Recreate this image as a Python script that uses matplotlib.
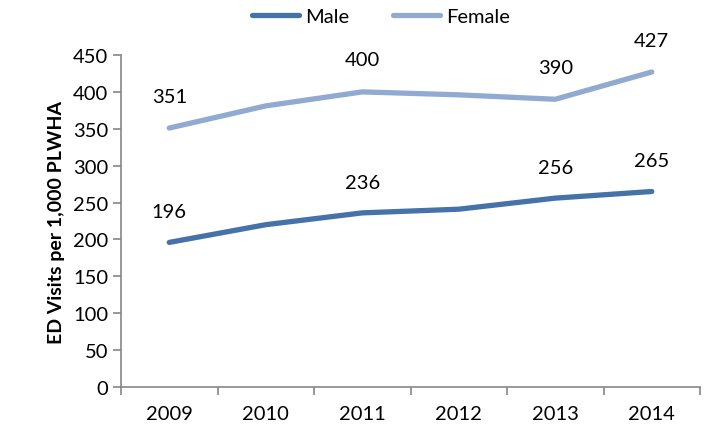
import matplotlib.pyplot as plt
import numpy as np

plt.rcParams['font.family'] = ['Lato', 'DejaVu Sans']

years = ["2009", "2010", "2011", "2012", "2013", "2014"]
male = [196, 220, 236, 241, 256, 265]
female = [351, 381, 400, 396, 390, 427]
# which points carry a value label
labelled = [0, 2, 4, 5]

fig = plt.figure(figsize=(7.05, 4.31), dpi=100)
ax = fig.add_axes([121 / 705, 1 - 388 / 431, 579 / 705, 332 / 431])

x = np.arange(len(years))
ax.plot(x, male, color="#4672AA", lw=3.8, label="Male", solid_capstyle="round")
ax.plot(x, female, color="#91AAD2", lw=3.8, label="Female", solid_capstyle="round")

for i in labelled:
    ax.annotate(str(male[i]), (x[i], male[i]), xytext=(0, 22), textcoords="offset points",
                ha="center", va="center", fontsize=14.5)
    ax.annotate(str(female[i]), (x[i], female[i]), xytext=(0, 23), textcoords="offset points",
                ha="center", va="center", fontsize=14.5)

ax.set_xlim(-0.5, len(years) - 0.5)
ax.set_ylim(0, 450)
ax.set_yticks(range(0, 451, 50))
ax.set_xticks(x)
ax.set_xticklabels(years)
ax.set_xticks(np.arange(-0.5, len(years), 1), minor=True)
ax.tick_params(axis="x", which="major", length=0, pad=13, labelsize=14.5)
ax.tick_params(axis="x", which="minor", length=6, color="#868686", width=1.2)
ax.tick_params(axis="y", length=6, color="#868686", width=1.2, labelsize=14.5, pad=3)

for s in ["top", "right"]:
    ax.spines[s].set_visible(False)
for s in ["left", "bottom"]:
    ax.spines[s].set_color("#868686")
    ax.spines[s].set_linewidth(1.2)

ax.set_ylabel("ED Visits per 1,000 PLWHA", fontsize=14, fontweight="bold", labelpad=6)

fig.legend(loc="center", bbox_to_anchor=(381 / 705, 1 - 17 / 431), ncol=2, frameon=False,
           fontsize=14.5, handlelength=2.3, handletextpad=0.3, columnspacing=2.2)

fig.savefig("out.png", dpi=100)
